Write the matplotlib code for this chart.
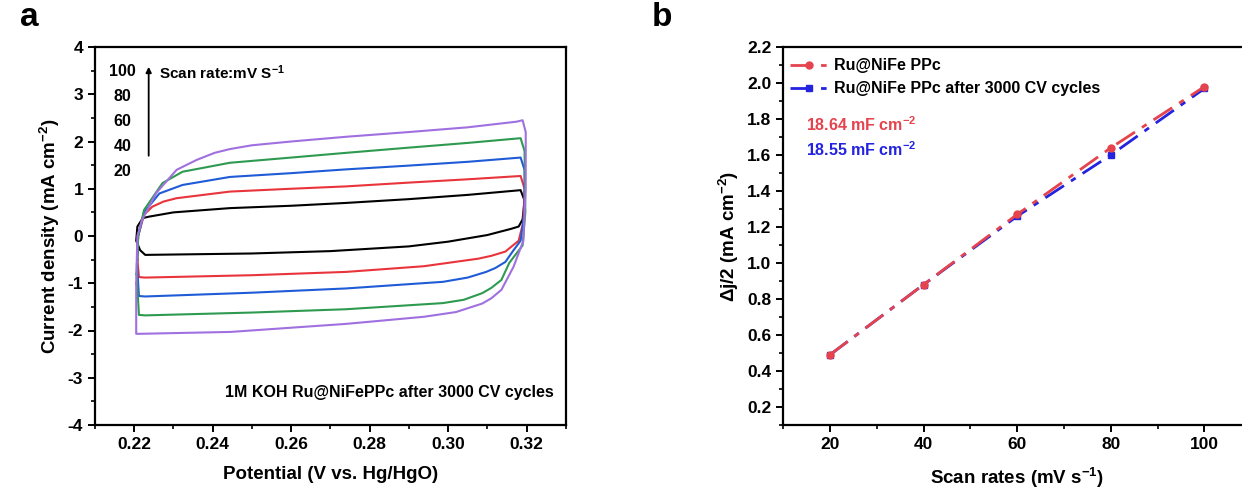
import numpy as np
import matplotlib
matplotlib.use("Agg")
import matplotlib.pyplot as plt

plt.rcParams['font.family'] = ['Liberation Sans', 'DejaVu Sans']
plt.rcParams['font.weight'] = 'bold'
plt.rcParams['axes.unicode_minus'] = False
plt.rcParams['mathtext.fontset'] = 'custom'
plt.rcParams['mathtext.rm'] = 'Liberation Sans:bold'
plt.rcParams['mathtext.it'] = 'Liberation Sans:bold'
plt.rcParams['mathtext.bf'] = 'Liberation Sans:bold'

# ---- panel a: CV loops ----
scan_labels = ['100', '80', '60', '40', '20']
cv_colors = ['#000000', '#e8343a', '#1f5bd6', '#2e9a50', '#a070e0']

pot_20 = [0.2222, 0.2238, 0.230, 0.2444, 0.260, 0.274, 0.290, 0.305, 0.3185,
          0.3195, 0.3190, 0.3180, 0.316, 0.310, 0.300, 0.290, 0.270, 0.250,
          0.2228, 0.2215, 0.2205, 0.2208, 0.2222]
cur_20 = [0.38, 0.41, 0.50, 0.59, 0.64, 0.70, 0.78, 0.87, 0.97,
          0.75, 0.35, 0.20, 0.15, 0.02, -0.12, -0.22, -0.32, -0.37,
          -0.40, -0.30, -0.10, 0.20, 0.38]

pot_40 = [0.2208, 0.2210, 0.2225, 0.2246, 0.2275, 0.2308, 0.2444, 0.260, 0.274,
          0.290, 0.305, 0.3185, 0.3195, 0.3192, 0.3180, 0.3146, 0.3110, 0.3077,
          0.2938, 0.274, 0.250, 0.2228, 0.2212, 0.2208]
cur_40 = [-0.50, 0.00, 0.45, 0.62, 0.73, 0.80, 0.94, 1.00, 1.05,
          1.13, 1.20, 1.27, 1.00, 0.30, -0.10, -0.33, -0.42, -0.48,
          -0.64, -0.76, -0.83, -0.88, -0.87, -0.50]

pot_60 = [0.2207, 0.2210, 0.2225, 0.2264, 0.2323, 0.2444, 0.260, 0.274, 0.290,
          0.305, 0.3185, 0.3195, 0.3195, 0.3185, 0.3167, 0.3146, 0.3120, 0.3097,
          0.3050, 0.2987, 0.274, 0.250, 0.2228, 0.2212, 0.2207]
cur_60 = [-0.60, 0.00, 0.50, 0.90, 1.08, 1.25, 1.33, 1.41, 1.49,
          1.57, 1.66, 1.40, 0.50, -0.10, -0.30, -0.55, -0.68, -0.76,
          -0.88, -0.97, -1.11, -1.20, -1.28, -1.27, -0.60]

pot_80 = [0.2206, 0.2210, 0.2225, 0.2272, 0.2323, 0.2444, 0.260, 0.274, 0.290,
          0.305, 0.3185, 0.3195, 0.3197, 0.3190, 0.3156, 0.3136, 0.3110, 0.3087,
          0.3040, 0.2987, 0.274, 0.250, 0.2228, 0.2212, 0.2206]
cur_80 = [-0.80, 0.00, 0.55, 1.12, 1.36, 1.55, 1.66, 1.76, 1.87,
          1.97, 2.07, 1.80, 0.50, -0.20, -0.57, -0.93, -1.10, -1.21,
          -1.35, -1.42, -1.55, -1.62, -1.68, -1.67, -0.80]

pot_100 = [0.2205, 0.2208, 0.2220, 0.2256, 0.2308, 0.2359, 0.2405, 0.2444, 0.250,
           0.260, 0.274, 0.290, 0.305, 0.3175, 0.3190, 0.3198, 0.3198, 0.3192,
           0.3167, 0.3136, 0.3110, 0.3087, 0.3020, 0.2938, 0.274, 0.2446,
           0.2215, 0.2205, 0.2205]
cur_100 = [-1.00, 0.00, 0.34, 0.91, 1.40, 1.61, 1.76, 1.84, 1.92,
           2.00, 2.10, 2.20, 2.30, 2.42, 2.45, 2.20, 1.00, -0.10,
           -0.65, -1.14, -1.32, -1.43, -1.61, -1.71, -1.86, -2.03,
           -2.07, -2.07, -1.00]

cv_pot = [pot_20, pot_40, pot_60, pot_80, pot_100]
cv_cur = [cur_20, cur_40, cur_60, cur_80, cur_100]

# ---- panel b: capacitance fit ----
scan_rates = [20, 40, 60, 80, 100]
dj_fresh = [0.49, 0.88, 1.27, 1.64, 1.98]
dj_cycled = [0.49, 0.88, 1.26, 1.60, 1.97]
series_names = ['Ru@NiFe PPc', 'Ru@NiFe PPc after 3000 CV cycles']
cdl_texts = ['18.64 mF cm$^{-2}$', '18.55 mF cm$^{-2}$']

fig = plt.figure(figsize=(12.42, 5.0), dpi=100)


def style_axes(ax):
    for s in ax.spines.values():
        s.set_linewidth(1.6)
    ax.tick_params(which='major', direction='out', length=5, width=1.4, labelsize=12.5)
    ax.tick_params(which='minor', direction='out', length=3, width=1.2)


# panel a
ax1 = fig.add_axes([0.0765, 0.15, 0.379, 0.756])
for p, c, col in zip(cv_pot, cv_cur, cv_colors):
    ax1.plot(p, c, color=col, lw=1.5)
ax1.set_xlim(0.21, 0.33)
ax1.set_ylim(-4, 4)
ax1.set_xticks(np.arange(0.22, 0.321, 0.02))
ax1.set_xticks(np.arange(0.21, 0.331, 0.01), minor=True)
ax1.set_yticks(np.arange(-4, 5, 1))
ax1.set_yticks(np.arange(-4, 4.1, 0.5), minor=True)
ax1.set_xticklabels(['%.2f' % v for v in np.arange(0.22, 0.321, 0.02)])
style_axes(ax1)
ax1.set_xlabel('Potential (V vs. Hg/HgO)', fontsize=13.5, fontweight='bold', labelpad=10)
ax1.set_ylabel('Current density (mA cm$^{-2}$)', fontsize=13.5, fontweight='bold', labelpad=4)

for i, lab in enumerate(scan_labels):
    ax1.text(0.059, 0.934 - i * 0.066, lab, transform=ax1.transAxes,
             ha='center', va='center', fontsize=11.5, fontweight='bold')
ax1.annotate('', xy=(0.114, 0.955), xytext=(0.114, 0.705), xycoords='axes fraction',
             arrowprops=dict(arrowstyle='-|>', color='black', lw=1.3, mutation_scale=8))
ax1.text(0.136, 0.932, 'Scan rate:mV S$^{-1}$', transform=ax1.transAxes,
         ha='left', va='center', fontsize=11, fontweight='bold')
ax1.text(0.975, 0.085, '1M KOH Ru@NiFePPc after 3000 CV cycles', transform=ax1.transAxes,
         ha='right', va='center', fontsize=11.5, fontweight='bold')

# panel b
ax2 = fig.add_axes([0.6305, 0.15, 0.377, 0.756])
ax2.plot(scan_rates, dj_cycled, color='#2323e0', ls='-.', lw=2, marker='s', ms=5,
         label=series_names[1], dashes=(8, 3, 2, 3))
ax2.plot(scan_rates, dj_fresh, color='#e5434d', ls='-.', lw=2, marker='o', ms=5,
         label=series_names[0], dashes=(8, 3, 2, 3))
ax2.set_xlim(10, 110)
ax2.set_ylim(0.1, 2.2)
ax2.set_xticks([20, 40, 60, 80, 100])
ax2.set_xticks(np.arange(10, 111, 10), minor=True)
ax2.set_yticks(np.arange(0.2, 2.21, 0.2))
ax2.set_yticks(np.arange(0.1, 2.21, 0.1), minor=True)
ax2.set_yticklabels(['%.1f' % v for v in np.arange(0.2, 2.21, 0.2)])
style_axes(ax2)
ax2.set_xlabel('Scan rates (mV s$^{-1}$)', fontsize=13.5, fontweight='bold', labelpad=10)
ax2.set_ylabel('Δj/2 (mA cm$^{-2}$)', fontsize=13.5, fontweight='bold', labelpad=4)
h, l = ax2.get_legend_handles_labels()
ax2.legend(h[::-1], l[::-1], loc='upper left', frameon=False, fontsize=11.5,
           bbox_to_anchor=(-0.01, 1.0), handlelength=2.4, handletextpad=0.4,
           labelspacing=0.5, borderaxespad=0.3)
ax2.text(0.05, 0.794, cdl_texts[0], transform=ax2.transAxes, color='#e5434d',
         fontsize=11.5, fontweight='bold', ha='left', va='center')
ax2.text(0.05, 0.728, cdl_texts[1], transform=ax2.transAxes, color='#2323e0',
         fontsize=11.5, fontweight='bold', ha='left', va='center')

fig.text(0.016, 0.965, 'a', fontsize=24, fontweight='bold', ha='left', va='center')
fig.text(0.525, 0.965, 'b', fontsize=24, fontweight='bold', ha='left', va='center')

fig.savefig('out.png', dpi=100)
